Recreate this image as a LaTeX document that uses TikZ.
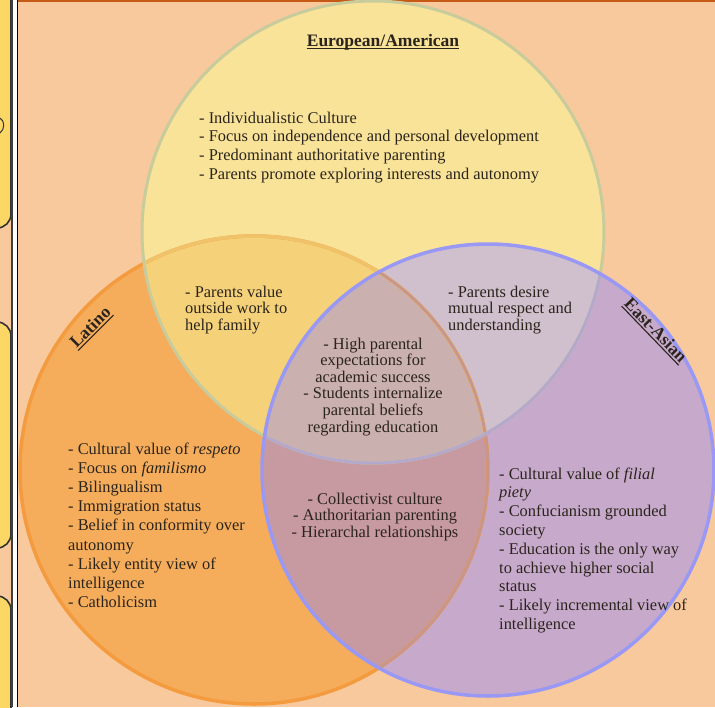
\documentclass[tikz,border=0pt]{standalone}
\usepackage{fontspec}
\setmainfont{Liberation Serif}
\definecolor{bgc}{HTML}{F8C99C}
\definecolor{stripy}{HTML}{FDD765}
\definecolor{topline}{HTML}{C55A16}
\definecolor{topfill}{HTML}{F9E399}
\definecolor{latfill}{HTML}{F5AD5C}
\definecolor{eafill}{HTML}{C7AACB}
\definecolor{toplat}{HTML}{F5D27A}
\definecolor{topea}{HTML}{D0BFCC}
\definecolor{latea}{HTML}{C69AA0}
\definecolor{tripc}{HTML}{CAB0AF}
\definecolor{topbord}{HTML}{C8CB9B}
\definecolor{topbordea}{HTML}{B4A9CC}
\definecolor{latbord}{HTML}{F39B3E}
\definecolor{latbordtop}{HTML}{F0C36A}
\definecolor{latbordea}{HTML}{C9968C}
\definecolor{eabord}{HTML}{9999F5}
\definecolor{txtc}{HTML}{2A241C}
\newcommand{\tlist}[1]{\begin{tabular}[t]{@{}l@{}}#1\end{tabular}}
\newcommand{\clist}[1]{\begin{tabular}[t]{@{}c@{}}#1\end{tabular}}
\begin{document}
\begin{tikzpicture}[x=1pt,y=-1pt,
  txt/.style={inner sep=0pt, text=txtc, font=\fontsize{16.4}{19}\selectfont},
  lbl/.style={inner xsep=0pt, inner ysep=1.8pt, text=txtc, font=\bfseries\fontsize{17.5}{20}\selectfont},
  uline/.style={draw=txtc, line width=1.1pt}]
\useasboundingbox (0,0) rectangle (715,707);
\clip (0,0) rectangle (715,707);
\fill[bgc] (0,0) rectangle (715,707);
% left strip
\draw[fill=stripy, draw=black!80, line width=1.6pt, rounded corners=14pt] (-30,-30) rectangle (11,228);
\draw[fill=stripy, draw=black!80, line width=1.6pt, rounded corners=14pt] (-30,322) rectangle (11,548);
\draw[fill=stripy, draw=black!80, line width=1.6pt, rounded corners=14pt] (-30,596) rectangle (11,740);
\draw[black!80, line width=1pt] (0,118) .. controls (5,121) and (5,129) .. (0,133);
\draw[black!75, line width=2.2pt] (11.8,0) -- (11.8,707);
\fill[white] (13,0) rectangle (16.8,707);
\fill[black] (16.8,0) rectangle (18.4,707);
\fill[topline] (18.4,0) rectangle (715,1.8);
% circle fills
\fill[latfill] (254,470) circle[radius=234pt];
\fill[topfill] (373,232) circle[radius=231pt];
\fill[eafill] (488,470) circle[radius=226pt];
\begin{scope}
  \clip (373,232) circle[radius=231pt];
  \fill[toplat] (254,470) circle[radius=234pt];
  \fill[topea] (488,470) circle[radius=226pt];
\end{scope}
\begin{scope}
  \clip (254,470) circle[radius=234pt];
  \fill[latea] (488,470) circle[radius=226pt];
  \clip (373,232) circle[radius=231pt];
  \fill[tripc] (488,470) circle[radius=226pt];
\end{scope}
% borders
\draw[latbord, line width=3.5pt] (254,470) circle[radius=234pt];
\begin{scope}
  \clip (373,232) circle[radius=231pt];
  \draw[latbordtop, line width=3.5pt] (254,470) circle[radius=234pt];
\end{scope}
\begin{scope}
  \clip (488,470) circle[radius=226pt];
  \draw[latbordea, line width=3pt] (254,470) circle[radius=234pt];
\end{scope}
\draw[topbord, line width=3pt] (373,232) circle[radius=231pt];
\begin{scope}
  \clip (488,470) circle[radius=226pt];
  \draw[topbordea, line width=3pt] (373,232) circle[radius=231pt];
\end{scope}
\draw[eabord, line width=3.5pt] (488,470) circle[radius=226pt];
% labels
\node[lbl, inner ysep=0pt, anchor=base] (eutitle) at (383,46) {European/American};
\draw[uline] ([yshift=-2.6pt]eutitle.base west) -- ([yshift=-2.6pt]eutitle.base east);
\node[lbl, rotate=45] (latlabel) at (90,327) {Latino};
\draw[uline] (latlabel.south west) -- (latlabel.south east);
\node[lbl, rotate=-46] (ealabel) at (656,330) {East-Asian};
\draw[uline] (ealabel.south west) -- (ealabel.south east);
% texts
\node[txt, anchor=base west, font=\fontsize{16.4}{18.8}\selectfont] (eutext) at (199,123)
  {\tlist{- Individualistic Culture\\- Focus on independence and personal development\\- Predominant authoritative parenting\\- Parents promote exploring interests and autonomy}};
\node[txt, anchor=base west, font=\fontsize{16.4}{16.7}\selectfont] (eulat) at (185,297)
  {\tlist{- Parents value\\outside work to\\help family}};
\node[txt, anchor=base west, font=\fontsize{16.4}{16.7}\selectfont] (euea) at (448,297)
  {\tlist{- Parents desire\\mutual respect and\\understanding}};
\node[txt, anchor=base, font=\fontsize{16.4}{16.6}\selectfont] (allthree) at (373,349)
  {\clist{- High parental\\expectations for\\academic success\\- Students internalize\\parental beliefs\\regarding education}};
\node[txt, anchor=base west, font=\fontsize{16.4}{19.2}\selectfont] (lattext) at (68,454)
  {\tlist{- Cultural value of \textit{respeto}\\- Focus on \textit{familismo}\\- Bilingualism\\- Immigration status\\- Belief in conformity over\\autonomy\\- Likely entity view of\\intelligence\\- Catholicism}};
\node[txt, anchor=base, font=\fontsize{16.4}{16.5}\selectfont] (latea) at (375,504)
  {\clist{- Collectivist culture\\- Authoritarian parenting\\- Hierarchal relationships}};
\node[txt, anchor=base west, font=\fontsize{16.4}{18.8}\selectfont] (eatext) at (499,479)
  {\tlist{- Cultural value of \textit{filial}\\\textit{piety}\\- Confucianism grounded\\society\\- Education is the only way\\to achieve higher social\\status\\- Likely incremental view of\\intelligence}};
\end{tikzpicture}
\end{document}
